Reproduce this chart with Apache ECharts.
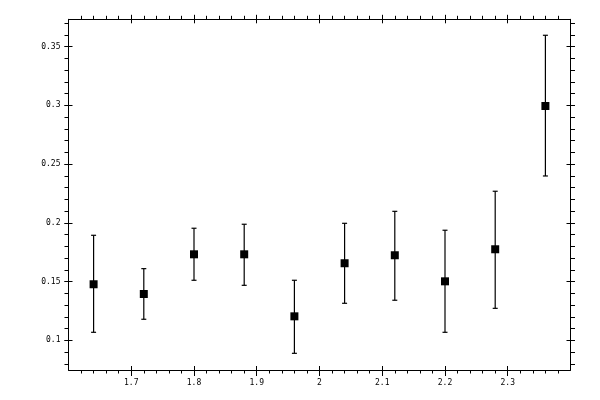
<!DOCTYPE html>
<html>
<head>
<meta charset="utf-8">
<script src="https://cdn.jsdelivr.net/npm/echarts@6/dist/echarts.min.js"></script>
<style>html,body{margin:0;padding:0;background:#fff}#c{width:600px;height:400px}</style>
</head>
<body>
<div id="c"></div>
<script>
var xValues = [1.64, 1.72, 1.80, 1.88, 1.96, 2.04, 2.12, 2.20, 2.28, 2.36];
var yValues = [0.1477, 0.1394, 0.1732, 0.1732, 0.1204, 0.1656, 0.1724, 0.1502, 0.1775, 0.2995];
var yLow    = [0.1068, 0.1179, 0.1511, 0.1468, 0.0889, 0.1315, 0.1341, 0.1068, 0.1272, 0.2399];
var yHigh   = [0.1894, 0.1610, 0.1954, 0.1988, 0.1511, 0.1996, 0.2098, 0.1937, 0.2269, 0.3597];
var xMajorTicks = [1.7, 1.8, 1.9, 2.0, 2.1, 2.2, 2.3];
var yMajorTicks = [0.1, 0.15, 0.2, 0.25, 0.3, 0.35];
var xMinorTicks = [1.62,1.64,1.66,1.68,1.70,1.72,1.74,1.76,1.78,1.80,1.82,1.84,1.86,1.88,1.90,1.92,1.94,1.96,1.98,2.00,2.02,2.04,2.06,2.08,2.10,2.12,2.14,2.16,2.18,2.20,2.22,2.24,2.26,2.28,2.30,2.32,2.34,2.36,2.38];
var yMinorTicks = [0.08,0.09,0.10,0.11,0.12,0.13,0.14,0.15,0.16,0.17,0.18,0.19,0.20,0.21,0.22,0.23,0.24,0.25,0.26,0.27,0.28,0.29,0.30,0.31,0.32,0.33,0.34,0.35,0.36,0.37];

var X_MIN = 1.6, X_MAX = 2.4, Y_MIN = 0.0747, Y_MAX = 0.3733;
var FONT = 'DejaVu Sans Mono';

function xAxisDef(pos, opts) {
  return {
    type: 'value', position: pos, min: X_MIN, max: X_MAX,
    splitLine: {show: false},
    axisLine: {show: !!opts.line, onZero: false, lineStyle: {color: '#000', width: 1}},
    axisTick: {show: true, inside: !!opts.inside, length: opts.len, customValues: opts.ticks, lineStyle: {color: '#000', width: 1}},
    axisLabel: opts.label ? {show: true, customValues: xMajorTicks, color: '#000', fontFamily: FONT, fontSize: 8, margin: 9} : {show: false}
  };
}
function yAxisDef(pos, opts) {
  return {
    type: 'value', position: pos, min: Y_MIN, max: Y_MAX,
    splitLine: {show: false},
    axisLine: {show: !!opts.line, onZero: false, lineStyle: {color: '#000', width: 1}},
    axisTick: {show: true, inside: !!opts.inside, length: opts.len, customValues: opts.ticks, lineStyle: {color: '#000', width: 1}},
    axisLabel: opts.label ? {show: true, customValues: yMajorTicks, color: '#000', fontFamily: FONT, fontSize: 8, margin: 8} : {show: false}
  };
}

var errData = xValues.map(function (x, i) { return [x, yLow[i], yHigh[i]]; });
var ptData = xValues.map(function (x, i) { return [x, yValues[i]]; });

var chart = echarts.init(document.getElementById('c'), null, {renderer: 'canvas'});
chart.setOption({
  animation: false,
  backgroundColor: '#fff',
  grid: {left: 68.5, right: 29.5, top: 19.3, bottom: 30, containLabel: false},
  xAxis: [
    xAxisDef('bottom', {line: true, label: true, ticks: xMajorTicks, len: 6}),
    xAxisDef('bottom', {ticks: xMinorTicks, len: 3.5}),
    xAxisDef('bottom', {ticks: xMajorTicks, len: 4, inside: true}),
    xAxisDef('top', {line: true, ticks: xMajorTicks, len: 4.5}),
    xAxisDef('top', {ticks: xMinorTicks, len: 3.5}),
    xAxisDef('top', {ticks: xMajorTicks, len: 4, inside: true})
  ],
  yAxis: [
    yAxisDef('left', {line: true, label: true, ticks: yMajorTicks, len: 4}),
    yAxisDef('left', {ticks: yMinorTicks, len: 4}),
    yAxisDef('left', {ticks: yMajorTicks, len: 4, inside: true}),
    yAxisDef('right', {line: true, ticks: yMajorTicks, len: 4.5}),
    yAxisDef('right', {ticks: yMinorTicks, len: 4.5}),
    yAxisDef('right', {ticks: yMajorTicks, len: 4, inside: true})
  ],
  series: [
    {
      type: 'custom',
      xAxisIndex: 0, yAxisIndex: 0,
      data: errData,
      renderItem: function (params, api) {
        var x = api.value(0);
        var lo = api.coord([x, api.value(1)]);
        var hi = api.coord([x, api.value(2)]);
        var cap = 2.5;
        var st = {stroke: '#000', lineWidth: 1.2};
        return {
          type: 'group',
          children: [
            {type: 'line', shape: {x1: lo[0], y1: lo[1], x2: hi[0], y2: hi[1]}, style: st},
            {type: 'line', shape: {x1: lo[0] - cap, y1: lo[1], x2: lo[0] + cap, y2: lo[1]}, style: st},
            {type: 'line', shape: {x1: hi[0] - cap, y1: hi[1], x2: hi[0] + cap, y2: hi[1]}, style: st}
          ]
        };
      },
      z: 2
    },
    {
      type: 'scatter',
      xAxisIndex: 0, yAxisIndex: 0,
      symbol: 'rect',
      symbolSize: 8,
      itemStyle: {color: '#000', opacity: 1},
      data: ptData,
      z: 3
    }
  ]
});
</script>
</body>
</html>
